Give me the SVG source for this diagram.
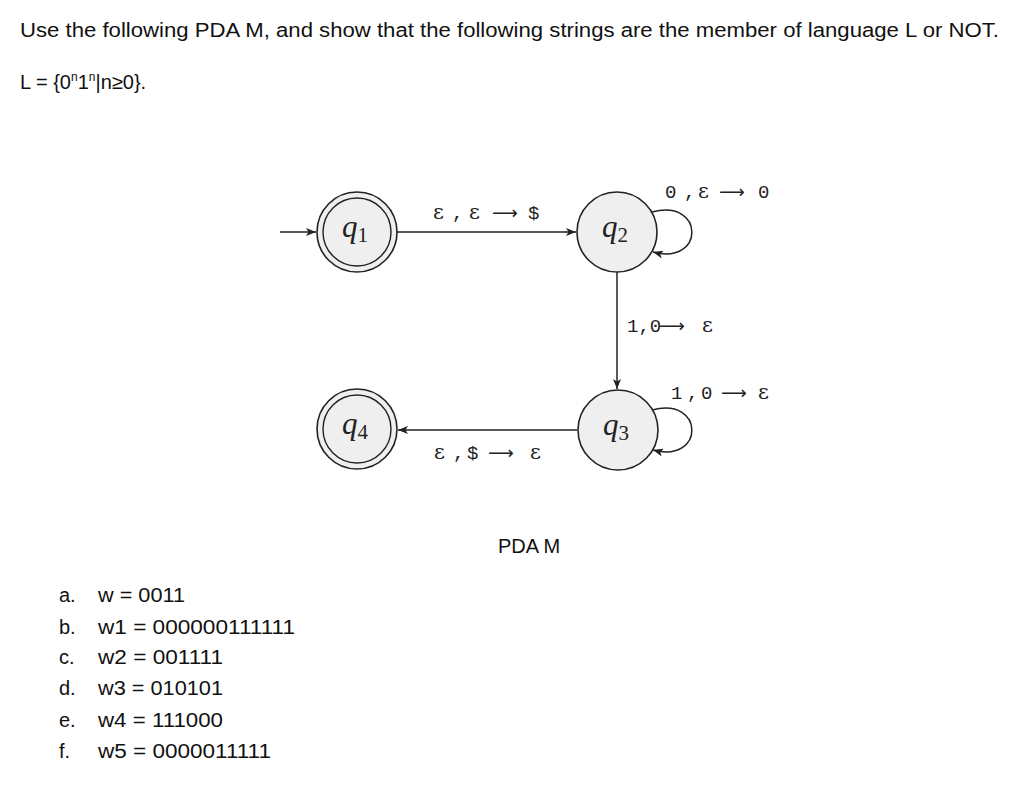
<svg xmlns="http://www.w3.org/2000/svg" width="1024" height="786" viewBox="0 0 1024 786">
<style>
.txt{font-family:"Liberation Sans","Open Sans",sans-serif;font-size:20px;fill:#111}
.st{fill:#efefef;stroke:#222;stroke-width:1.6}
.in{fill:none;stroke:#222;stroke-width:1.4}
.q{font-family:"Liberation Serif","DejaVu Serif",serif;fill:#222}
.lab{fill:#222}
.m{font-family:"Liberation Mono","DejaVu Sans Mono",monospace;font-size:19px}
.ep{font-family:"DejaVu Serif","Liberation Serif",serif;font-size:21px}
.ar{font-family:"DejaVu Sans",sans-serif;font-size:18px}
.e{fill:none;stroke:#222;stroke-width:1.5}
</style>
<defs>
<marker id="ah" viewBox="0 0 10 8" refX="10" refY="4" markerWidth="10" markerHeight="8" markerUnits="userSpaceOnUse" orient="auto">
<path d="M0,0 L10,4 L0,8 L2.5,4 Z" fill="#222"/>
</marker>
</defs>
<rect width="1024" height="786" fill="#fff"/>
<text class="txt" x="20" y="37" textLength="979" lengthAdjust="spacingAndGlyphs">Use the following PDA M, and show that the following strings are the member of language L or NOT.</text>
<text class="txt" x="20" y="89">L = {0<tspan font-size="12" dy="-8">n</tspan><tspan dy="8">1</tspan><tspan font-size="12" dy="-8">n</tspan><tspan dy="8">|n≥0}.</tspan></text>

<g id="connectors">
<line class="e" x1="280" y1="232" x2="316" y2="232" marker-end="url(#ah)"/>
<line class="e" x1="397" y1="232" x2="576" y2="232" marker-end="url(#ah)"/>
<path class="e" d="M652,212 C705,198 705,266 653,252" marker-end="url(#ah)"/>
<line class="e" x1="617" y1="272" x2="617" y2="389" marker-end="url(#ah)"/>
<path class="e" d="M652,410 C705,396 705,464 653,450" marker-end="url(#ah)"/>
<line class="e" x1="577" y1="430" x2="398" y2="430" marker-end="url(#ah)"/>
<text class="lab" y="219"><tspan class="ep" x="433">ε</tspan><tspan class="m" x="452">,</tspan><tspan class="ep" x="469">ε</tspan><tspan class="ar" x="492">⟶</tspan><tspan class="m" x="528">$</tspan></text>
<text class="lab" y="198"><tspan class="m" x="665">0</tspan><tspan class="m" x="684">,</tspan><tspan class="ep" x="698">ε</tspan><tspan class="ar" x="719">⟶</tspan><tspan class="m" x="758">0</tspan></text>
<text class="lab" y="332"><tspan class="m" x="627">1,0</tspan><tspan class="ar" x="659">⟶</tspan><tspan class="ep" x="702">ε</tspan></text>
<text class="lab" y="399"><tspan class="m" x="671">1</tspan><tspan class="m" x="687">,</tspan><tspan class="m" x="701">0</tspan><tspan class="ar" x="721">⟶</tspan><tspan class="ep" x="758">ε</tspan></text>
<text class="lab" y="459"><tspan class="ep" x="434">ε</tspan><tspan class="m" x="453">,</tspan><tspan class="m" x="467">$</tspan><tspan class="ar" x="488">⟶</tspan><tspan class="ep" x="530">ε</tspan></text>
</g>

<g id="q1">
<circle class="st" cx="357" cy="232" r="40"/>
<circle class="in" cx="357" cy="232" r="34"/>
<text class="q" x="342" y="237"><tspan font-style="italic" font-size="31">q</tspan><tspan font-size="21" dy="5">1</tspan></text>
</g>
<g id="q2">
<circle class="st" cx="617" cy="232" r="40"/>
<text class="q" x="602" y="237"><tspan font-style="italic" font-size="31">q</tspan><tspan font-size="21" dy="5">2</tspan></text>
</g>
<g id="q3">
<circle class="st" cx="618" cy="430" r="40"/>
<text class="q" x="603" y="435"><tspan font-style="italic" font-size="31">q</tspan><tspan font-size="21" dy="5">3</tspan></text>
</g>
<g id="q4">
<circle class="st" cx="357" cy="429" r="40"/>
<circle class="in" cx="357" cy="429" r="34"/>
<text class="q" x="342" y="434"><tspan font-style="italic" font-size="31">q</tspan><tspan font-size="21" dy="5">4</tspan></text>
</g>

<text class="txt" x="498" y="553">PDA M</text>

<g class="txt">
<text x="59" y="602">a.</text><text x="98" y="602" textLength="87" lengthAdjust="spacingAndGlyphs">w = 0011</text>
<text x="59" y="634">b.</text><text x="98" y="634" textLength="197" lengthAdjust="spacingAndGlyphs">w1 = 000000111111</text>
<text x="59" y="664">c.</text><text x="98" y="664" textLength="125" lengthAdjust="spacingAndGlyphs">w2 = 001111</text>
<text x="59" y="695">d.</text><text x="98" y="695" textLength="125" lengthAdjust="spacingAndGlyphs">w3 = 010101</text>
<text x="59" y="727">e.</text><text x="98" y="727" textLength="125" lengthAdjust="spacingAndGlyphs">w4 = 111000</text>
<text x="59" y="758">f.</text><text x="98" y="758" textLength="173" lengthAdjust="spacingAndGlyphs">w5 = 0000011111</text>
</g>
</svg>
